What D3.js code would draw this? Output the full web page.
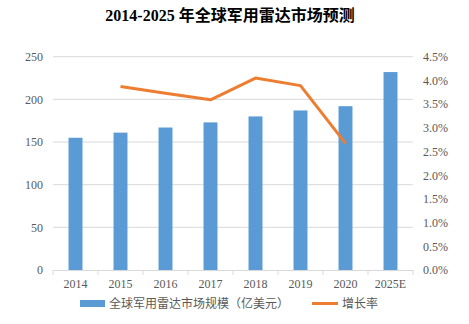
<!DOCTYPE html>
<html>
<head>
<meta charset="utf-8">
<script src="https://cdn.jsdelivr.net/npm/d3@7"></script>
<style>
	body { margin: 0; background: #fff; }
	svg { display: block; }
</style>
</head>
<body>
<svg id="chart" width="469" height="324"></svg>
<script>
// data
const years = ['2014', '2015', '2016', '2017', '2018', '2019', '2020', '2025E'];
const marketSize = [155, 161, 167, 173, 180, 187, 192, 232];
const growthYears = ['2015', '2016', '2017', '2018', '2019', '2020'];
const growthRate = [3.87, 3.73, 3.59, 4.05, 3.89, 2.67];
const leftTicks = [0, 50, 100, 150, 200, 250];
const rightTicks = [0, 0.5, 1, 1.5, 2, 2.5, 3, 3.5, 4, 4.5];

const plotLeft = 53, plotRight = 413, plotTop = 56.7, plotBottom = 270;

const svg = d3.select('#chart');
const serif = '"Times New Roman", "Liberation Serif", "Noto Sans CJK SC", serif';
const grey = '#595959';

const x = d3.scaleBand()
	.domain(years)
	.range([plotLeft, plotRight])
	.paddingInner(0.69)
	.paddingOuter(0.345);

const xBand = d3.scaleBand().domain(years).range([plotLeft, plotRight]);

const y = d3.scaleLinear().domain([0, 250]).range([plotBottom, plotTop]);
const y2 = d3.scaleLinear().domain([0, 4.5]).range([plotBottom, plotTop]);

// title
svg.append('text')
	.attr('x', 230)
	.attr('y', 21)
	.attr('text-anchor', 'middle')
	.style('font', 'bold 16px ' + serif)
	.style('fill', '#000')
	.text('2014-2025 年全球军用雷达市场预测');

// grid
svg.append('g')
	.selectAll('line')
	.data(leftTicks.slice(1))
	.enter()
	.append('line')
	.attr('x1', plotLeft)
	.attr('x2', plotRight)
	.attr('y1', d => y(d))
	.attr('y2', d => y(d))
	.style('stroke', '#d9d9d9')
	.style('stroke-width', 1);

// left axis
const yAxis = d3.axisLeft(y).tickValues(leftTicks).tickSize(0).tickPadding(10);
const gy = svg.append('g')
	.attr('transform', `translate(${plotLeft}, 0)`)
	.call(yAxis);
gy.select('.domain').remove();
gy.selectAll('text').style('font', '12px ' + serif).style('fill', grey);

// right axis
const y2Axis = d3.axisRight(y2).tickValues(rightTicks).tickSize(0).tickPadding(10)
	.tickFormat(d => d.toFixed(1) + '%');
const gy2 = svg.append('g')
	.attr('transform', `translate(${plotRight}, 0)`)
	.call(y2Axis);
gy2.select('.domain').remove();
gy2.selectAll('text').style('font', '12px ' + serif).style('fill', grey);

// bars
svg.append('g')
	.selectAll('rect')
	.data(marketSize)
	.enter()
	.append('rect')
	.attr('x', (d, i) => x(years[i]))
	.attr('y', d => y(d))
	.attr('width', x.bandwidth())
	.attr('height', d => plotBottom - y(d))
	.style('fill', '#5b9bd5');

// bottom axis
const xAxis = d3.axisBottom(xBand).tickSize(0).tickPadding(9);
const gx = svg.append('g')
	.attr('transform', `translate(0, ${plotBottom})`)
	.call(xAxis);
gx.select('.domain').style('stroke', '#d9d9d9');
gx.selectAll('text').style('font', '12px ' + serif).style('fill', grey);
gx.selectAll('line.sep')
	.data(years.concat(['end']))
	.enter()
	.append('line')
	.attr('class', 'sep')
	.attr('x1', (d, i) => plotLeft + i * xBand.step())
	.attr('x2', (d, i) => plotLeft + i * xBand.step())
	.attr('y1', 0)
	.attr('y2', 5)
	.style('stroke', '#d9d9d9');

// growth line
const line = d3.line()
	.x((d, i) => xBand(growthYears[i]) + xBand.bandwidth() / 2)
	.y(d => y2(d));

svg.append('path')
	.datum(growthRate)
	.attr('d', line)
	.style('fill', 'none')
	.style('stroke', '#ed7d31')
	.style('stroke-width', 3)
	.style('stroke-linejoin', 'round');

// legend
const legend = svg.append('g').attr('transform', 'translate(0, 303)');
legend.append('rect')
	.attr('x', 80).attr('y', -3).attr('width', 25).attr('height', 7)
	.style('fill', '#5b9bd5');
legend.append('text')
	.attr('x', 109).attr('y', 4.5)
	.style('font', '12px ' + serif).style('fill', grey)
	.text('全球军用雷达市场规模（亿美元）');
legend.append('line')
	.attr('x1', 312).attr('x2', 338).attr('y1', 0.5).attr('y2', 0.5)
	.style('stroke', '#ed7d31').style('stroke-width', 3);
legend.append('text')
	.attr('x', 342).attr('y', 4.5)
	.style('font', '12px ' + serif).style('fill', grey)
	.text('增长率');
</script>
</body>
</html>
